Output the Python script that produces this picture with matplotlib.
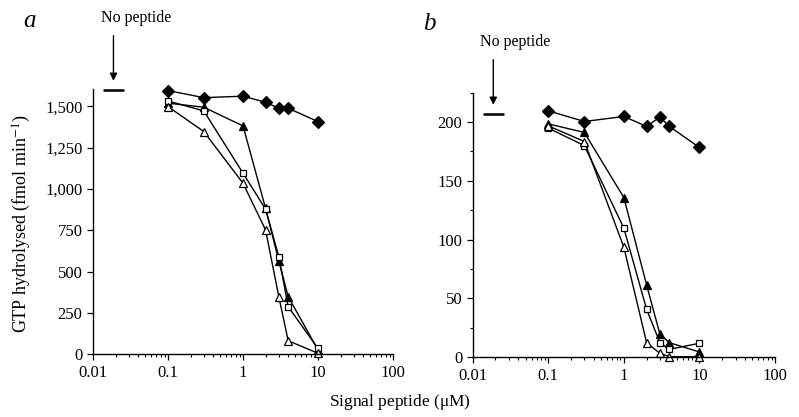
import matplotlib
matplotlib.use('Agg')
import matplotlib.pyplot as plt
from matplotlib.ticker import FixedLocator, FuncFormatter, LogLocator, NullFormatter

plt.rcParams['font.family'] = ['Liberation Serif', 'DejaVu Serif']
plt.rcParams['mathtext.fontset'] = 'stix'

# signal peptide concentration (uM)
conc = [0.1, 0.3, 1, 2, 3, 4, 10]
nopep_span = [0.0135, 0.026]

# panel a (fmol/min)
a_nopep = 1600
a_diamond = [1596, 1553, 1562, 1525, 1489, 1489, 1408]
a_tri_fill = [1520, 1495, 1382, 883, 565, 349, 26]
a_square = [1533, 1473, 1096, 878, 591, 288, 35]
a_tri_open = [1499, 1348, 1035, 752, 349, 82, 6]

# panel b (fmol/min)
b_nopep = 207
b_diamond = [209.6, 200.5, 204.8, 196.3, 204.3, 196.3, 178.4]
b_tri_fill = [198.5, 191.2, 135.8, 61.5, 19.6, 12.4, 4.5]
b_square = [194.9, 180.0, 109.8, 40.8, 12.4, 6.8, 11.9]
b_tri_open = [196.8, 183.5, 93.6, 12.4, 3.4, 0.5, 0.5]


def draw_panel(ax, diamond, tri_fill, square, tri_open, nopep):
    kw = dict(color='black', linewidth=1.0, markeredgewidth=0.9, clip_on=False)
    ax.plot(conc, diamond, marker='D', markersize=6.3, markerfacecolor='black', **kw)
    ax.plot(conc, tri_fill, marker='^', markersize=5.5, markerfacecolor='black', **kw)
    ax.plot(conc, square, marker='s', markersize=5, markerfacecolor='white', **kw)
    ax.plot(conc, tri_open, marker='^', markersize=5.5, markerfacecolor='white', **kw)
    ax.hlines(nopep, nopep_span[0], nopep_span[1], color='black', linewidth=1.8,
              clip_on=False)
    ax.set_xscale('log')
    ax.set_xlim(0.01, 100)
    ax.spines['top'].set_visible(False)
    ax.spines['right'].set_visible(False)
    ax.xaxis.set_major_locator(FixedLocator([0.01, 0.1, 1, 10, 100]))
    ax.xaxis.set_major_formatter(FuncFormatter(lambda v, p: '%g' % v))
    ax.xaxis.set_minor_locator(LogLocator(base=10, subs=range(2, 10)))
    ax.xaxis.set_minor_formatter(NullFormatter())
    ax.tick_params(axis='both', which='major', direction='out', length=4, width=0.9,
                   labelsize=12)
    ax.tick_params(axis='both', which='minor', direction='out', length=2.5, width=0.8)
    for s in ['left', 'bottom']:
        ax.spines[s].set_linewidth(1.0)

    # "No peptide" label with a vertical arrow down to the bar
    xc = (nopep_span[0] * nopep_span[1]) ** 0.5
    ax.annotate('No peptide', xy=(xc, nopep), xytext=(16, 52),
                textcoords='offset points', ha='center', va='center', fontsize=11.5)
    ax.annotate('', xy=(xc, nopep), xytext=(0, 39), textcoords='offset points',
                arrowprops=dict(arrowstyle='-|>', color='black', lw=1.0,
                                mutation_scale=11, shrinkA=0, shrinkB=6.5))


fig = plt.figure(figsize=(7.99, 4.17), dpi=100)
ax1 = fig.add_axes([0.1164, 0.1504, 0.3755, 0.636])
ax2 = fig.add_axes([0.5916, 0.1432, 0.3784, 0.6345])

draw_panel(ax1, a_diamond, a_tri_fill, a_square, a_tri_open, a_nopep)
ax1.set_ylim(0, 1605)
ax1.yaxis.set_major_locator(FixedLocator([0, 250, 500, 750, 1000, 1250, 1500]))
ax1.yaxis.set_major_formatter(FuncFormatter(lambda v, p: '{:,.0f}'.format(v)))

draw_panel(ax2, b_diamond, b_tri_fill, b_square, b_tri_open, b_nopep)
ax2.set_ylim(0, 225)
ax2.yaxis.set_major_locator(FixedLocator([0, 50, 100, 150, 200]))
ax2.yaxis.set_minor_locator(FixedLocator([25, 75, 125, 175, 225]))

fig.text(0.029, 0.975, 'a', fontsize=18, fontstyle='italic', va='top', ha='left')
fig.text(0.530, 0.968, 'b', fontsize=18, fontstyle='italic', va='top', ha='left')

fig.text(0.027, 0.463, 'GTP hydrolysed (fmol min$^{-1}$)', rotation=90,
         fontsize=13, ha='center', va='center')
fig.text(0.5, 0.012, 'Signal peptide ($\\mathregular{\\mu}$M)', fontsize=12.5,
         ha='center', va='bottom')

fig.savefig('out.png', dpi=100)
